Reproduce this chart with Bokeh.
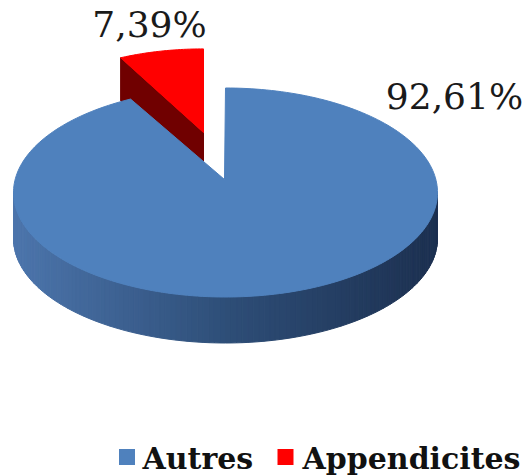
import math
from bokeh.plotting import figure
from bokeh.models import Range1d, ColumnDataSource
from bokeh.core.properties import value
from bokeh.embed import file_html
from bokeh.resources import INLINE

# ---- data ----
categories = ["Autres", "Appendicites"]
percents = [92.61, 7.39]
labels = ["92,61%", "7,39%"]
top_colors = ["#4f81bd", "#ff0000"]

# ---- layout constants (page pixel space) ----
W, H = 528, 475
CX, CY = 225.0, 192.0      # top ellipse centre
RX, RY = 212.0, 104.5      # top ellipse radii
APEX = (224.0, 179.0)      # pie centre as seen
DEPTH = 46.0
EXPL = (-21.0, -47.0)      # exploded slice offset
RSX, RSY = 0.873, 0.80     # exploded slice perspective scale
RDEPTH = 43.0
LABEL_SIZE = 36
LEG_SIZE = 30

p = figure(width=W, height=H, output_backend="svg", toolbar_location=None,
           x_range=Range1d(0, W), y_range=Range1d(H, 0),
           min_border=0)
p.axis.visible = False
p.grid.visible = False
p.outline_line_color = None
p.background_fill_color = "white"

def pt(theta_deg, cx=CX, cy=CY, rx=RX, ry=RY):
    t = math.radians(theta_deg)
    return cx + rx * math.cos(t), cy - ry * math.sin(t)

# angles: small slice goes counter-clockwise from 12 o'clock
start = 90.0
small_span = percents[1] / sum(percents) * 360.0
small_a0, small_a1 = start, start + small_span
big_a0, big_a1 = small_a1, start + 360.0

def lerp(c1, c2, t):
    return tuple(int(round(a + (b - a) * t)) for a, b in zip(c1, c2))

def side_color(x):
    t = (x - (CX - RX)) / (2 * RX)
    stops = [(0.0, (76, 117, 172)), (0.5, (46, 78, 120)), (1.0, (28, 48, 80))]
    for (t0, c0), (t1, c1) in zip(stops, stops[1:]):
        if t <= t1:
            c = lerp(c0, c1, max(0.0, (t - t0) / (t1 - t0)))
            return "#%02x%02x%02x" % c
    return "#%02x%02x%02x" % stops[-1][1]

# ---- exploded small slice ----
rcx, rcy = APEX[0] + EXPL[0], APEX[1] + EXPL[1]
rrx, rry = RX * RSX, RY * RSY
ax, ay = rcx, rcy
lx, ly = pt(small_a1, rcx, rcy, rrx, rry)
p.patch([ax, lx, lx, ax], [ay, ly, ly + RDEPTH, ay + RDEPTH],
        fill_color="#700000", line_color="#700000", line_width=1)
xs, ys = [ax], [ay]
n = 30
for i in range(n + 1):
    a = small_a0 + (small_a1 - small_a0) * i / n
    x, y = pt(a, rcx, rcy, rrx, rry)
    xs.append(x); ys.append(y)
p.patch(xs, ys, fill_color=top_colors[1], line_color=top_colors[1], line_width=1)

# ---- big slice side (front half) ----
seg = 120
sx, sy, sc = [], [], []
for i in range(seg):
    a0 = 180 + 180 * i / seg
    a1 = 180 + 180 * (i + 1) / seg
    x0, y0 = pt(a0)
    x1, y1 = pt(a1)
    sx.append([x0, x1, x1, x0])
    sy.append([y0, y1, y1 + DEPTH, y0 + DEPTH])
    sc.append(side_color((x0 + x1) / 2))
p.patches(sx, sy, fill_color=sc, line_color=sc, line_width=1)

# ---- big slice top ----
xs, ys = [APEX[0]], [APEX[1]]
n = 240
for i in range(n + 1):
    a = big_a0 + (big_a1 - big_a0) * i / n
    x, y = pt(a)
    xs.append(x); ys.append(y)
p.patch(xs, ys, fill_color=top_colors[0], line_color=top_colors[0], line_width=1)

# ---- data labels (baseline y given, drawn with middle baseline) ----
lab_src = ColumnDataSource(dict(x=[454, 149],
                                y=[107 - 0.3 * LABEL_SIZE, 35 - 0.3 * LABEL_SIZE],
                                t=labels))
p.text(x="x", y="y", text="t", source=lab_src, text_align="center",
       text_baseline="middle", text_font=value("DejaVu Serif"),
       text_font_size=f"{LABEL_SIZE}px", text_color="#1a1a1a")

# ---- legend ----
leg_src = ColumnDataSource(dict(x=[126.5, 285.0], y=[456.5, 456.5], c=top_colors))
p.scatter(x="x", y="y", marker="square", size=16, fill_color="c",
          line_color=None, source=leg_src)
legt_src = ColumnDataSource(dict(x=[142, 302],
                                 y=[467 - 0.3 * LEG_SIZE] * 2, t=categories))
p.text(x="x", y="y", text="t", source=legt_src, text_align="left",
       text_baseline="middle", text_font=value("DejaVu Serif"),
       text_font_style="bold", text_font_size=f"{LEG_SIZE}px", text_color="#111111")

open("out.html", "w").write(file_html(p, INLINE))
